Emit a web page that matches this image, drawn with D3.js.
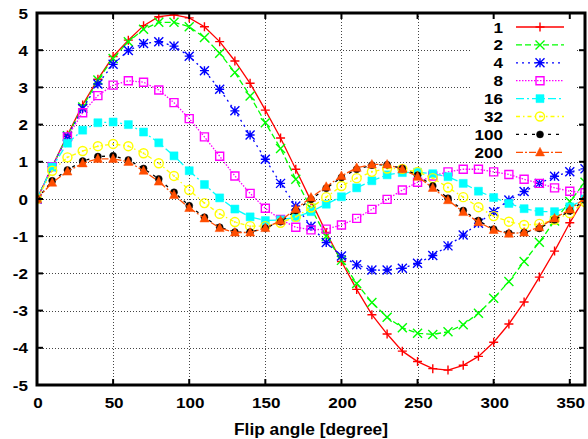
<!DOCTYPE html>
<html>
<head>
<meta charset="utf-8">
<script src="https://cdn.jsdelivr.net/npm/d3@7"></script>
<style>
  body { margin: 0; background: #fff; }
  svg text { font-family: "Liberation Sans", Arial, sans-serif; font-weight: bold; }
</style>
</head>
<body>
<div id="chart"></div>
<script>
// Flip angle samples (degrees)
const angles = d3.range(0, 361, 10);

// Series names shown in the legend
const seriesNames = ["1", "2", "4", "8", "16", "32", "100", "200"];

// Values, one per angle
const s1 = [0, 0.87, 1.72, 2.53, 3.22, 3.83, 4.27, 4.66, 4.90, 4.95, 4.87, 4.63, 4.23, 3.71, 3.11, 2.39, 1.64, 0.80, -0.05,
  -0.90, -1.68, -2.43, -3.11, -3.63, -4.09, -4.37, -4.56, -4.60, -4.47, -4.23, -3.85, -3.36, -2.77, -2.10, -1.40, -0.64, 0.05];
const s2 = [0, 0.87, 1.70, 2.47, 3.20, 3.78, 4.23, 4.56, 4.75, 4.75, 4.63, 4.34, 3.92, 3.40, 2.77, 2.05, 1.36, 0.53, -0.25,
  -1.00, -1.65, -2.27, -2.78, -3.18, -3.46, -3.61, -3.64, -3.57, -3.38, -3.07, -2.67, -2.22, -1.68, -1.16, -0.59, -0.07, 0.45];
const s4 = [0, 0.87, 1.68, 2.43, 3.09, 3.62, 3.99, 4.18, 4.23, 4.11, 3.84, 3.45, 2.95, 2.37, 1.72, 1.07, 0.42, -0.19, -0.73,
  -1.17, -1.53, -1.77, -1.91, -1.91, -1.86, -1.73, -1.52, -1.26, -0.97, -0.65, -0.34, -0.03, 0.20, 0.42, 0.61, 0.73, 0.81];
const s8 = [0, 0.87, 1.67, 2.32, 2.78, 3.06, 3.18, 3.14, 2.93, 2.59, 2.16, 1.67, 1.15, 0.62, 0.15, -0.25, -0.55, -0.76, -0.83,
  -0.81, -0.70, -0.52, -0.28, -0.01, 0.24, 0.45, 0.62, 0.73, 0.80, 0.80, 0.73, 0.66, 0.53, 0.42, 0.30, 0.21, 0.17];
const s16 = [0, 0.86, 1.50, 1.85, 2.05, 2.07, 2.00, 1.80, 1.51, 1.16, 0.76, 0.39, 0.03, -0.27, -0.48, -0.58, -0.56, -0.49, -0.34,
  -0.14, 0.06, 0.30, 0.49, 0.65, 0.71, 0.72, 0.68, 0.60, 0.42, 0.21, 0.04, -0.12, -0.26, -0.34, -0.34, -0.21, 0.0];
const s32 = [0, 0.76, 1.12, 1.29, 1.42, 1.48, 1.42, 1.23, 0.96, 0.62, 0.24, -0.11, -0.40, -0.62, -0.73, -0.73, -0.64, -0.48, -0.23,
  0.05, 0.35, 0.56, 0.73, 0.82, 0.81, 0.73, 0.56, 0.31, 0.05, -0.22, -0.46, -0.61, -0.70, -0.67, -0.56, -0.38, -0.08];
const s100 = [0, 0.49, 0.78, 1.02, 1.14, 1.16, 1.05, 0.82, 0.54, 0.18, -0.18, -0.49, -0.76, -0.89, -0.89, -0.78, -0.61, -0.31, -0.01,
  0.29, 0.58, 0.80, 0.91, 0.92, 0.82, 0.64, 0.35, 0.02, -0.31, -0.58, -0.81, -0.92, -0.90, -0.79, -0.56, -0.32, -0.03];
const s200 = [0, 0.44, 0.74, 0.96, 1.08, 1.08, 1.00, 0.76, 0.47, 0.11, -0.24, -0.52, -0.78, -0.90, -0.90, -0.78, -0.58, -0.27, 0.04,
  0.33, 0.62, 0.84, 0.93, 0.93, 0.80, 0.60, 0.30, -0.03, -0.35, -0.62, -0.83, -0.93, -0.90, -0.76, -0.52, -0.28, 0.02];

const seriesValues = [s1, s2, s4, s8, s16, s32, s100, s200];

// Tick values
const xTicks = [0, 50, 100, 150, 200, 250, 300, 350];
const yTicks = [-5, -4, -3, -2, -1, 0, 1, 2, 3, 4, 5];

// Styles per series
const colors = ["#ff0000", "#00ff00", "#0000ff", "#ff00ff", "#00ffff", "#ffff00", "#000000", "#ff4d00"];
const dashes = [null, "6,3", "2,4", "1.5,1.5", "8,3,2,3", "4,3,1.5,3", "3,5", "7,2,2,2"];
const markers = ["plus", "cross", "star", "box", "boxF", "circle", "circleF", "triF"];

const width = 588, height = 439;
const plotL = 37, plotR = 585, plotT = 13, plotB = 385;

const svg = d3.select("#chart").append("svg")
  .attr("width", width)
  .attr("height", height);

const x = d3.scaleLinear().domain([0, 360]).range([plotL, plotR]);
const y = d3.scaleLinear().domain([-5, 5]).range([plotB, plotT]);

// Text is a bit wider than plain Liberation Sans Bold, so stretch it
function label(g, tx, ty, str, anchor, size, stretch) {
  return g.append("text")
    .attr("transform", `translate(${tx},${ty}) scale(${stretch},1)`)
    .attr("text-anchor", anchor)
    .attr("font-size", size)
    .text(str);
}

// Grid
const grid = svg.append("g").attr("stroke", "#444").attr("stroke-width", 1).attr("stroke-dasharray", "1,2");
grid.selectAll(".gx").data(xTicks.slice(1)).enter().append("line")
  .attr("x1", d => Math.round(x(d)) + 0.5).attr("x2", d => Math.round(x(d)) + 0.5)
  .attr("y1", plotT).attr("y2", plotB);
grid.selectAll(".gy").data(yTicks.slice(1, -1)).enter().append("line")
  .attr("x1", plotL).attr("x2", plotR)
  .attr("y1", d => Math.round(y(d)) + 0.5).attr("y2", d => Math.round(y(d)) + 0.5);

// Legend background hides the grid behind it
svg.append("rect")
  .attr("x", 472).attr("y", plotT + 2).attr("width", 103).attr("height", 147)
  .attr("fill", "#fff");

// Marker shapes
function markerPath(type, s) {
  const h = s / 2;
  const p = d3.path();
  if (type === "plus" || type === "star") {
    p.moveTo(-h, 0); p.lineTo(h, 0); p.moveTo(0, -h); p.lineTo(0, h);
  }
  if (type === "cross" || type === "star") {
    p.moveTo(-h, -h); p.lineTo(h, h); p.moveTo(-h, h); p.lineTo(h, -h);
  }
  if (type === "box" || type === "boxF") {
    p.rect(-h, -h, s, s);
  }
  if (type === "circle" || type === "circleF") {
    p.moveTo(h, 0); p.arc(0, 0, h, 0, 2 * Math.PI);
  }
  if (type === "triF") {
    p.moveTo(0, -h * 1.1); p.lineTo(h, h * 0.8); p.lineTo(-h, h * 0.8); p.closePath();
  }
  return p.toString();
}

function drawMarker(g, type, color, cx, cy) {
  const filled = type === "boxF" || type === "circleF" || type === "triF";
  const size = type === "circleF" ? 7 : (type === "box" || type === "boxF" ? 8 : 9);
  g.append("path")
    .attr("transform", `translate(${cx},${cy})`)
    .attr("d", markerPath(type, size))
    .attr("fill", filled ? color : "none")
    .attr("stroke", color)
    .attr("stroke-width", filled ? 0.5 : 1.4);
  if (type === "circle") {
    g.append("circle").attr("cx", cx).attr("cy", cy).attr("r", 1).attr("fill", color);
  }
}

const line = d3.line()
  .x((d, i) => x(angles[i]))
  .y(d => y(d));

const plot = svg.append("g");
plot.append("clipPath").attr("id", "clip")
  .append("rect").attr("x", plotL).attr("y", plotT).attr("width", plotR - plotL).attr("height", plotB - plotT);

seriesValues.forEach((vals, k) => {
  const g = plot.append("g").attr("clip-path", "url(#clip)");
  g.append("path")
    .attr("d", line(vals))
    .attr("fill", "none")
    .attr("stroke", colors[k])
    .attr("stroke-width", 1.3)
    .attr("stroke-dasharray", dashes[k]);
  vals.forEach((v, i) => drawMarker(g, markers[k], colors[k], x(angles[i]), y(v)));
});

// Legend
const legend = svg.append("g");
seriesNames.forEach((name, k) => {
  const ly = 27 + k * 17.9;
  label(legend, 503, ly + 5.5, name, "end", 15.5, 1.1);
  legend.append("line")
    .attr("x1", 516).attr("x2", 564).attr("y1", ly).attr("y2", ly)
    .attr("stroke", colors[k]).attr("stroke-width", 1.3)
    .attr("stroke-dasharray", dashes[k]);
  drawMarker(legend, markers[k], colors[k], 540, ly);
});

// Ticks on all four sides, pointing inward
const ticks = svg.append("g").attr("stroke", "#000").attr("stroke-width", 2);
xTicks.slice(1).forEach(t => {
  ticks.append("line").attr("x1", x(t)).attr("x2", x(t)).attr("y1", plotB).attr("y2", plotB - 6);
  ticks.append("line").attr("x1", x(t)).attr("x2", x(t)).attr("y1", plotT).attr("y2", plotT + 6);
});
yTicks.slice(1, -1).forEach(t => {
  ticks.append("line").attr("x1", plotL).attr("x2", plotL + 6).attr("y1", y(t)).attr("y2", y(t));
  ticks.append("line").attr("x1", plotR).attr("x2", plotR - 6).attr("y1", y(t)).attr("y2", y(t));
});

// Border
svg.append("rect")
  .attr("x", plotL).attr("y", plotT).attr("width", plotR - plotL).attr("height", plotB - plotT)
  .attr("fill", "none").attr("stroke", "#000").attr("stroke-width", 3);

// Tick labels
const xLabels = svg.append("g");
xTicks.forEach(t => label(xLabels, x(t) + 1, 408, t, "middle", 15.5, 1.1));
const yLabels = svg.append("g");
yTicks.forEach(t => label(yLabels, 28, y(t) + 5.5, t, "end", 15.5, 1.1));

// Axis title
label(svg, (plotL + plotR) / 2, 435, "Flip angle [degree]", "middle", 16.5, 1.05);
</script>
</body>
</html>
